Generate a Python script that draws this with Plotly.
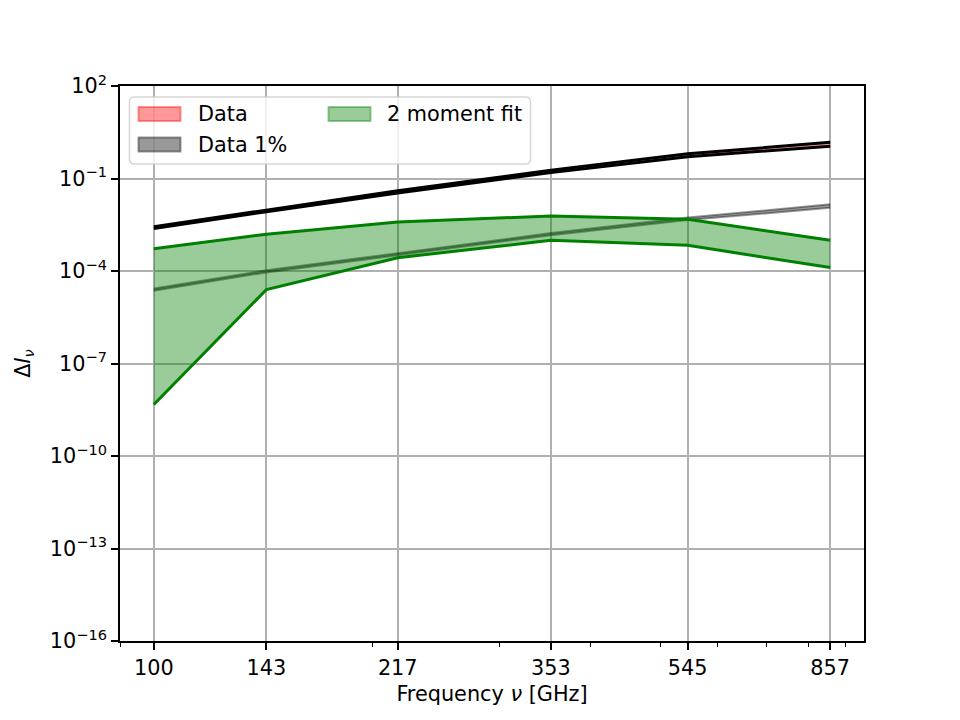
import math
import plotly.graph_objects as go

# ---------------- data ----------------
freq = [100, 143, 217, 353, 545, 857]
freq_labels = ["100", "143", "217", "353", "545", "857"]
minor_freq = [90, 200, 300, 400, 500, 600, 700, 800, 900]

data_upper = [2.75e-3, 9.7e-3, 0.040, 0.185, 0.63, 1.5]
data_lower = [2.4e-3, 8.4e-3, 0.034, 0.155, 0.51, 1.12]

data1_upper = [2.7e-5, 1.05e-4, 3.8e-4, 1.7e-3, 5.4e-3, 1.45e-2]
data1_lower = [2.3e-5, 9.0e-5, 3.25e-4, 1.45e-3, 4.5e-3, 1.12e-2]

fit_upper = [5.3e-4, 1.56e-3, 3.9e-3, 6.1e-3, 4.8e-3, 9.9e-4]
fit_lower = [4.7e-9, 2.5e-5, 2.7e-4, 9.9e-4, 6.8e-4, 1.29e-4]

y_exponents = [2, -1, -4, -7, -10, -13, -16]
legend_labels = ["Data", "Data 1%", "2 moment fit"]

# ---------------- styling ----------------
FONT = "DejaVu Sans"
FS = 20.8
# page body has an 8px margin, so the figure is slightly smaller and
# margins are reduced to land the plot area where the reference has it
OFF = 8
W, H = 960 - OFF, 720 - OFF
ML, MR, MT, MB = 120 - OFF, 96, 86 - OFF, 79
PW, PH = W - ML - MR, H - MT - MB

RED_A = "rgba(255,0,0,0.4)"
BLK_A = "rgba(0,0,0,0.4)"
GRN = "#008000"
GRN_A = "rgba(0,128,0,0.4)"

fig = go.Figure()

# Data band (red fill, black edges)
fig.add_trace(go.Scatter(x=freq, y=data_lower, mode="lines", name=legend_labels[0],
                         line=dict(color="black", width=3), showlegend=False, hoverinfo="skip"))
fig.add_trace(go.Scatter(x=freq, y=data_upper, mode="lines", name=legend_labels[0],
                         line=dict(color="black", width=3), fill="tonexty", fillcolor=RED_A,
                         showlegend=False, hoverinfo="skip"))

# Data 1% band
fig.add_trace(go.Scatter(x=freq, y=data1_lower, mode="lines", name=legend_labels[1],
                         line=dict(color=BLK_A, width=2), showlegend=False, hoverinfo="skip"))
fig.add_trace(go.Scatter(x=freq, y=data1_upper, mode="lines", name=legend_labels[1],
                         line=dict(color=BLK_A, width=2), fill="tonexty", fillcolor=BLK_A,
                         showlegend=False, hoverinfo="skip"))

# 2 moment fit band
fig.add_trace(go.Scatter(x=freq, y=fit_lower, mode="lines", name=legend_labels[2],
                         line=dict(color=GRN, width=3), showlegend=False, hoverinfo="skip"))
fig.add_trace(go.Scatter(x=freq, y=fit_upper, mode="lines", name=legend_labels[2],
                         line=dict(color=GRN, width=3), fill="tonexty", fillcolor=GRN_A,
                         showlegend=False, hoverinfo="skip"))

# ---------------- manual legend (matplotlib-like) ----------------
# positions given in reference-page pixels
def px_x(px):
    return (px - OFF - ML) / PW

def px_y(py):
    return (OFF + H - MB - py) / PH

def rounded_rect(x0, y0, x1, y1, r):
    rx, ry = r / PW, r / PH
    X0, X1 = px_x(x0), px_x(x1)
    Yt, Yb = px_y(y0), px_y(y1)
    return (f"M {X0+rx},{Yt} L {X1-rx},{Yt} Q {X1},{Yt} {X1},{Yt-ry} "
            f"L {X1},{Yb+ry} Q {X1},{Yb} {X1-rx},{Yb} "
            f"L {X0+rx},{Yb} Q {X0},{Yb} {X0},{Yb+ry} "
            f"L {X0},{Yt-ry} Q {X0},{Yt} {X0+rx},{Yt} Z")

shapes = [dict(type="path", xref="paper", yref="paper", layer="above",
               path=rounded_rect(129.5, 97, 530.5, 164, 5),
               fillcolor="rgba(255,255,255,0.8)",
               line=dict(color="rgba(204,204,204,0.8)", width=1.5))]

patches = [
    (138.5, 107, 180.5, 121, RED_A),
    (138.5, 137.5, 180.5, 151.5, BLK_A),
    (328.5, 107, 370.5, 121, GRN_A),
]
for (x0, y0, x1, y1, c) in patches:
    shapes.append(dict(type="rect", xref="paper", yref="paper", layer="above",
                       x0=px_x(x0), x1=px_x(x1), y0=px_y(y1), y1=px_y(y0),
                       fillcolor=c, line=dict(color=c, width=2)))

text_pos = [(196, 114), (196, 144.5), (385, 114)]
annotations = []
for label, (tx, ty) in zip(legend_labels, text_pos):
    annotations.append(dict(xref="paper", yref="paper", x=px_x(tx), y=px_y(ty),
                            xanchor="left", yanchor="middle", showarrow=False,
                            text=label, font=dict(family=FONT, size=FS, color="black")))

# ---------------- axes ----------------
lx0, lx1 = math.log10(freq[0]), math.log10(freq[-1])
pad = 0.05 * (lx1 - lx0)
tick_font = dict(family=FONT, size=FS, color="black")

fig.update_layout(
    width=W, height=H,
    margin=dict(l=ML, r=MR, t=MT, b=MB, pad=0),
    paper_bgcolor="white", plot_bgcolor="white",
    font=dict(family=FONT, size=FS, color="black"),
    shapes=shapes, annotations=annotations,
    showlegend=False,
)

fig.update_xaxes(
    type="log", range=[lx0 - pad, lx1 + pad],
    tickmode="array", tickvals=freq, ticktext=freq_labels, tickfont=tick_font,
    ticks="outside", ticklen=7, tickwidth=1.6, tickcolor="black",
    showline=True, linecolor="black", linewidth=1.6, mirror=True,
    showgrid=True, gridcolor="#b0b0b0", gridwidth=1.6,
    zeroline=False,
    minor=dict(tickmode="array", tickvals=minor_freq, ticks="outside", ticklen=4,
               tickwidth=1.2, tickcolor="black", showgrid=False),
    title=dict(text="Frequency <i>ν</i> [GHz]", font=dict(family=FONT, size=FS, color="black"),
               standoff=8),
    automargin=False,
)

fig.update_yaxes(
    type="log", range=[-16, 2],
    tickmode="array", tickvals=[10.0 ** e for e in y_exponents],
    ticktext=["10<sup>%s</sup>" % str(e).replace("-", "\u2212") for e in y_exponents],
    tickfont=tick_font,
    ticks="outside", ticklen=7, tickwidth=1.6, tickcolor="black",
    showline=True, linecolor="black", linewidth=1.6, mirror=True,
    showgrid=True, gridcolor="#b0b0b0", gridwidth=1.6,
    zeroline=False,
    title=dict(text="Δ<i>I</i><sub><i>ν</i></sub>", font=dict(family=FONT, size=FS, color="black"),
               standoff=14),
    automargin=False,
)

fig.write_html("out.html")
